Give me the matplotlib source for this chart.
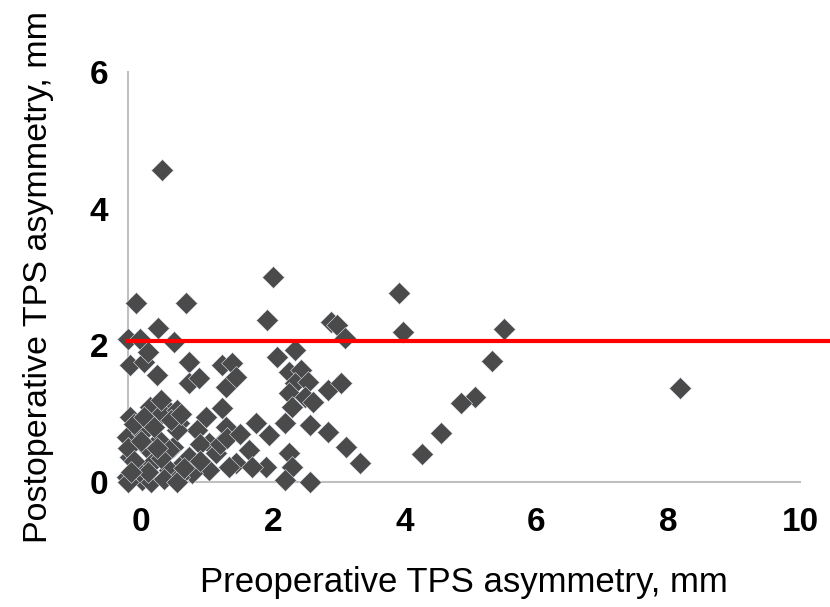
import matplotlib.pyplot as plt
import numpy as np

# preoperative (x) vs postoperative (y) TPS asymmetry, mm
pre_mm = [0.32, -0.07, 0.68, 2.00, 1.91, 3.91, 3.97, 5.51, 5.33, 5.07, 4.85, 4.55, 4.26, 8.17,
          2.89, 2.97, 3.10, 2.34, 2.07, 2.24, 2.43, 2.34, 2.54, 2.24, 2.49, 2.61, 2.29, 2.84,
          3.04, 2.57, 1.74, 2.19, 1.94, 2.84, 3.11, 3.33, 1.64, 1.89, 2.24, 2.29, 2.19, 2.57,
          0.26, -0.20, -0.02, 0.50, -0.17, 0.05, 0.10, 0.25, 0.73, 0.73, 0.88, 1.23, 1.38,
          1.29, 1.44,
          1.23, 0.99, 0.38, 0.58, 0.85, 1.29, 1.03, 0.48, 0.73, 1.14, 1.44, 1.68, 1.03, 1.33,
          0.58, 0.78, 0.28,
          -0.17, 0.13, 0.32, 0.54, -0.22, 0.02, -0.17, -0.02, -0.22, 0.08, 0.43, 0.54, 0.17,
          0.43, 0.58, 0.02, -0.20,
          -0.10, -0.20, -0.10, 0.00, 0.05, 0.20, 0.30, 0.15, 0.35, 0.55, 0.65, 0.45, 0.30,
          0.60, 0.10, -0.15, 0.25, 0.90, 0.90, 1.20, 1.30, 1.50]
post_mm = [4.57, 2.62, 2.62, 3.00, 2.37, 2.77, 2.20, 2.24, 1.77, 1.24, 1.16, 0.72, 0.41, 1.38,
           2.34, 2.30, 2.11, 1.93, 1.83, 1.61, 1.64, 1.45, 1.46, 1.30, 1.24, 1.17, 1.10, 1.35,
           1.45, 0.83, 0.86, 0.86, 0.69, 0.73, 0.51, 0.28, 0.47, 0.22, 0.42, 0.22, 0.03, 0.00,
           2.25, 2.09, 2.09, 2.05, 1.71, 1.76, 1.90, 1.57, 1.76, 1.45, 1.52, 1.71, 1.74,
           1.39, 1.54,
           1.08, 0.95, 1.08, 0.86, 0.76, 0.81, 0.57, 0.51, 0.37, 0.42, 0.28, 0.22, 0.18, 0.22,
           0.22, 0.13, 0.61,
           0.95, 1.10, 1.01, 1.05, 0.66, 0.72, 0.37, 0.18, 0.07, 0.51, 0.47, 0.76, 0.28,
           0.18, 0.07, 0.03, 0.00,
           0.85, 0.50, 0.30, 0.60, 0.95, 0.80, 0.35, 0.00, 0.05, 0.00, 0.20, 0.90, 1.20,
           1.00, 0.15, 0.15, 0.50, 0.55, 0.30, 0.55, 0.65, 0.70]
threshold = 2.06

x_ticks = [0, 2, 4, 6, 8, 10]
y_ticks = [0, 2, 4, 6]

fig = plt.figure(figsize=(8.3, 6.07), dpi=100)
ax = fig.add_axes([0.154, 0.206, 0.81, 0.675])

ax.scatter(pre_mm, post_mm, marker='D', s=125, color='#4a4a4a',
           edgecolors='#dfe6ef', linewidths=0.4, zorder=3, clip_on=False)
ax.plot([-0.2, 10.6], [threshold, threshold], color='#ff0000', lw=3, zorder=4, clip_on=False)

ax.set_xlim(-0.2, 10)
ax.set_ylim(0, 6)
ax.set_xticks(x_ticks)
ax.set_yticks(y_ticks)

for s in ['top', 'right']:
    ax.spines[s].set_visible(False)
for s in ['left', 'bottom']:
    ax.spines[s].set_color('#bfbfbf')
    ax.spines[s].set_linewidth(1.5)

ax.tick_params(length=0)
ax.tick_params(axis='x', pad=18)
ax.tick_params(axis='y', pad=14)
for lab in ax.get_xticklabels() + ax.get_yticklabels():
    lab.set_fontfamily('Liberation Sans')
    lab.set_fontweight('bold')
    lab.set_fontsize(24)

ax.set_xlabel('Preoperative TPS asymmetry, mm', fontfamily='Liberation Sans', fontsize=25, labelpad=20)
ax.set_ylabel('Postoperative TPS asymmetry, mm', fontfamily='Liberation Sans', fontsize=24.5, labelpad=26)

fig.savefig('out.png', dpi=100)
